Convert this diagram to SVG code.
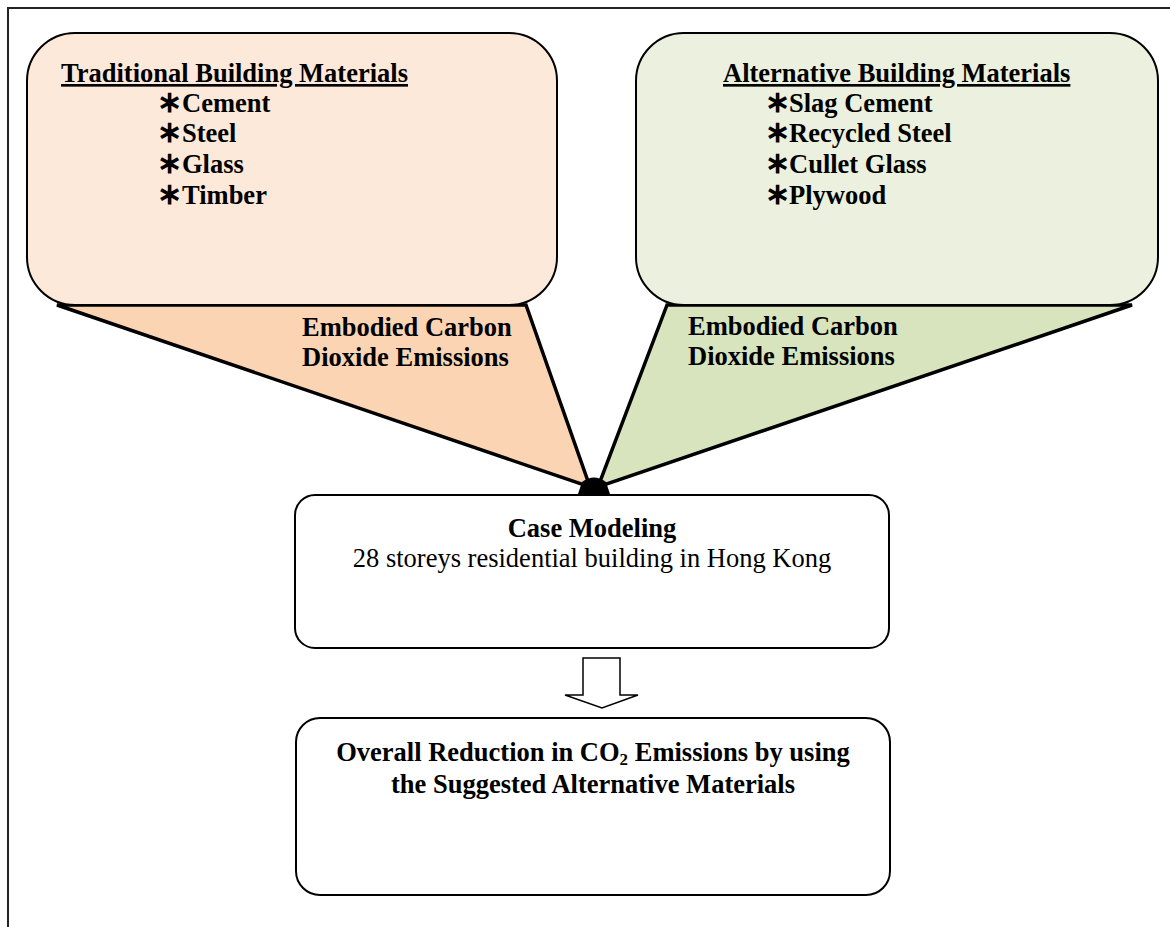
<svg xmlns="http://www.w3.org/2000/svg" width="1170" height="927" viewBox="0 0 1170 927">
<style>
.t{font-family:"Liberation Serif","Times New Roman",serif;font-size:26.5px;fill:#000}
.b{font-weight:bold}
.ast{font-size:30px}
.box{stroke:#000;stroke-width:2}
.tail{stroke:#000;stroke-width:3.5;stroke-linejoin:miter}
</style>
<rect width="1170" height="927" fill="#fff"/>
<g id="frame" fill="none" stroke="#222" stroke-width="2">
<path d="M1170 8 H8 V927"/>
</g>
<g id="connectors">
<polygon class="tail" fill="#FBD4B4" points="57,305 590,487 526,305"/>
<polygon class="tail" fill="#D7E4BD" points="667,305 598,487 1132,305"/>
<path d="M578 494 L582 482 Q594 473 606 482 L610 494 Z" fill="#000"/>
<path d="M583 658 H620 V695 H638 L602 708 L565 695 H583 Z" fill="#fff" stroke="#000" stroke-width="1.5"/>
</g>
<g id="traditional">
<rect class="box" x="27" y="33" width="530" height="272" rx="48" fill="#FDE9D9"/>
<text class="t b" x="61" y="82" text-decoration="underline">Traditional Building Materials</text>
<text class="t b" y="112"><tspan class="ast" x="157">∗</tspan><tspan x="182">Cement</tspan></text>
<text class="t b" y="142"><tspan class="ast" x="157">∗</tspan><tspan x="182">Steel</tspan></text>
<text class="t b" y="173"><tspan class="ast" x="157">∗</tspan><tspan x="182">Glass</tspan></text>
<text class="t b" y="204"><tspan class="ast" x="157">∗</tspan><tspan x="182">Timber</tspan></text>
</g>
<g id="alternative">
<rect class="box" x="636" y="33" width="522" height="272" rx="48" fill="#EBF1DE"/>
<text class="t b" x="723" y="82" text-decoration="underline">Alternative Building Materials</text>
<text class="t b" y="112"><tspan class="ast" x="765">∗</tspan><tspan x="789">Slag Cement</tspan></text>
<text class="t b" y="142"><tspan class="ast" x="765">∗</tspan><tspan x="789">Recycled Steel</tspan></text>
<text class="t b" y="173"><tspan class="ast" x="765">∗</tspan><tspan x="789">Cullet Glass</tspan></text>
<text class="t b" y="204"><tspan class="ast" x="765">∗</tspan><tspan x="789">Plywood</tspan></text>
</g>
<g id="label-left">
<text class="t b" x="302" y="336">Embodied Carbon</text>
<text class="t b" x="302" y="366">Dioxide Emissions</text>
</g>
<g id="label-right">
<text class="t b" x="688" y="335">Embodied Carbon</text>
<text class="t b" x="688" y="365">Dioxide Emissions</text>
</g>
<g id="case">
<rect class="box" x="295" y="495" width="594" height="153" rx="20" fill="#fff"/>
<text class="t b" x="592" y="537" text-anchor="middle">Case Modeling</text>
<text class="t" x="592" y="567" text-anchor="middle">28 storeys residential building in Hong Kong</text>
</g>
<g id="result">
<rect class="box" x="296" y="718" width="594" height="177" rx="24" fill="#fff"/>
<text class="t b" x="593" y="761" text-anchor="middle">Overall Reduction in CO<tspan font-size="17" dy="4">2</tspan><tspan dy="-4"> Emissions by using</tspan></text>
<text class="t b" x="593" y="793" text-anchor="middle">the Suggested Alternative Materials</text>
</g>
</svg>
